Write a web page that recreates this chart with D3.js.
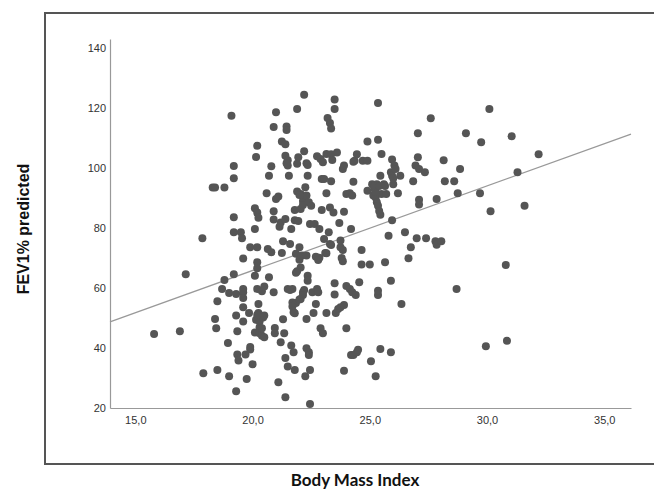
<!DOCTYPE html>
<meta charset="utf-8">
<style>
  body { margin: 0; background: #fff; }
  .dot { fill: #555; }
  .fit { stroke: #999; stroke-width: 1.2px; fill: none; }
  .axis path { stroke: #999; stroke-width: 1.2px; }
  .axis text { font: 11px "Liberation Sans", Arial, sans-serif; fill: #333; }
</style>
<body>
<script src="https://d3js.org/d3.v7.min.js"></script>
<script>
// data
var bmi = [
  15.8, 16.9, 17.15, 17.86, 17.9, 18.3, 18.4, 18.8, 18.4, 18.45, 18.5, 18.5, 18.7, 18.8, 18.95,
  19.0, 19.0, 19.1, 19.2, 19.2, 19.2, 19.2, 19.2, 19.3, 19.3, 19.3, 19.35, 19.35, 19.4, 19.5,
  19.55, 19.6, 19.6, 19.6, 19.6, 19.6, 19.6, 19.7, 19.75, 19.85, 19.9, 19.9, 19.9, 20.0, 20.1,
  20.1, 20.15, 20.1, 20.1, 20.2, 20.15, 20.2, 20.25, 20.2, 20.2, 20.2, 20.2, 20.25, 20.25, 20.3,
  20.3, 20.3, 20.4, 20.4, 20.45, 20.5, 20.5, 20.5, 20.6, 20.7, 20.7, 20.65, 20.8, 20.8, 20.9,
  20.9, 20.9, 20.9, 20.95, 20.95, 21.0, 21.0, 21.1, 21.1, 21.15, 21.2, 21.2, 21.25, 21.3, 21.25,
  21.3, 21.35, 21.4, 21.4, 21.4, 21.4, 21.4, 21.45, 21.45, 21.5, 21.5, 21.5, 21.55, 21.5, 21.6,
  21.65, 21.7, 21.65, 21.7, 21.75, 21.75, 21.8, 21.8, 21.8, 21.9, 21.85, 21.9, 21.85, 21.9, 21.9,
  21.95, 21.95, 22.0, 22.0, 22.05, 22.05, 22.05, 22.05, 22.1, 22.15, 22.15, 22.2, 22.2, 22.25, 22.25,
  22.3, 22.3, 22.3, 22.3, 22.3, 22.35, 22.35, 22.35, 22.4, 22.4, 22.4, 22.45, 22.45, 22.45, 22.5,
  22.55, 22.6, 22.65, 22.7, 22.75, 22.75, 22.8, 22.85, 22.85, 22.9, 22.9, 22.95, 22.95, 23.0, 23.0,
  23.05, 23.05, 23.1, 23.15, 23.15, 23.15, 23.2, 23.25, 23.3, 23.3, 23.3, 23.35, 23.35, 23.35, 23.45,
  23.5, 23.5, 23.5, 23.5, 23.55, 23.6, 23.65, 23.7, 23.75, 23.75, 23.75, 23.8, 23.85, 23.85, 23.9,
  23.9, 23.9, 23.9, 24.0, 24.0, 24.0, 24.15, 24.15, 24.2, 24.2, 24.25, 24.3, 24.25, 24.3, 24.35,
  24.4, 24.45, 24.45, 24.5, 24.55, 24.65, 24.65, 24.7, 24.9, 24.9, 24.9, 25.0, 25.05, 25.1, 25.15,
  25.2, 25.25, 25.25, 25.3, 25.3, 25.35, 25.35, 25.35, 25.35, 25.35, 25.4, 25.45, 25.45, 25.45, 25.5,
  25.5, 25.6, 25.65, 25.7, 25.8, 25.9, 25.9, 25.9, 25.95, 25.95, 25.95, 26.0, 26.05, 26.1, 26.2,
  26.3, 26.35, 26.5, 26.65, 26.75, 26.85, 26.95, 27.0, 27.05, 27.05, 27.1, 27.1, 27.1, 27.35, 27.4,
  27.6, 27.8, 27.85, 27.85, 28.05, 28.15, 28.2, 28.6, 28.7, 28.75, 28.85, 29.1, 29.7, 29.75, 29.95,
  30.1, 30.15, 30.8, 30.85, 31.05, 31.3, 31.6, 32.2,
  21.6, 22.2, 22.15, 22.0, 21.7, 21.8, 21.85, 23.35, 23.15, 22.7, 22.8, 22.0, 22.15, 25.25, 25.65,
  21.45, 22.35, 23.4, 24.3, 20.2, 20.4, 23.85, 26.0, 25.2, 25.4
];
var fev = [
  44.7, 45.6, 64.6, 76.6, 31.6, 93.5, 93.5, 93.5, 49.7, 46.6, 32.7, 55.6, 59.7, 62.7, 41.7,
  30.6, 58.3, 117.4, 100.7, 96.6, 64.6, 83.6, 78.6, 25.6, 58.0, 50.8, 45.6, 37.8, 35.8, 78.6,
  76.6, 69.8, 59.7, 58.6, 56.7, 53.6, 48.8, 37.8, 29.7, 51.7, 39.5, 40.3, 73.6, 34.6, 45.2,
  64.1, 49.4, 79.7, 86.6, 107.4, 103.7, 85.2, 83.4, 73.6, 68.6, 66.6, 59.7, 54.7, 51.7, 48.8,
  46.9, 44.9, 58.9, 44.1, 50.2, 43.6, 50.8, 60.5, 91.6, 63.6, 97.4, 73.0, 71.9, 100.6, 113.7,
  85.6, 82.8, 58.6, 46.7, 44.9, 89.7, 118.6, 90.5, 28.6, 80.4, 81.8, 41.9, 71.7, 49.6, 108.8,
  75.6, 44.9, 107.9, 104.1, 83.0, 36.7, 23.6, 113.8, 112.7, 102.6, 33.8, 100.8, 97.4, 59.7, 74.7,
  40.8, 59.7, 79.7, 55.2, 38.6, 51.9, 32.7, 82.6, 86.0, 101.4, 71.4, 65.6, 55.0, 119.7, 92.2,
  82.3, 103.6, 73.6, 69.4, 91.3, 86.3, 56.3, 66.8, 70.8, 58.6, 89.0, 105.6, 124.4, 93.6, 30.6,
  39.9, 90.8, 70.8, 49.7, 101.6, 64.1, 62.4, 97.4, 88.6, 38.6, 37.7, 21.3, 32.7, 81.3, 87.4,
  58.6, 51.7, 81.3, 54.7, 59.7, 103.9, 58.6, 70.1, 79.7, 103.0, 46.6, 96.3, 86.0, 44.9, 101.9,
  76.3, 96.3, 71.7, 51.7, 91.6, 104.7, 116.7, 78.6, 86.8, 115.0, 74.7, 113.2, 104.6, 95.6, 85.2,
  57.8, 122.8, 119.7, 61.6, 51.7, 105.2, 53.0, 81.7, 53.6, 73.6, 75.8, 70.0, 99.7, 68.9, 100.8,
  85.4, 54.3, 32.4, 46.6, 91.3, 60.7, 91.6, 59.7, 37.7, 79.7, 90.8, 95.4, 58.6, 37.7, 102.4,
  57.7, 104.6, 38.6, 39.4, 61.9, 72.7, 67.8, 102.4, 102.4, 108.8, 92.4, 67.8, 35.6, 94.6, 90.8,
  93.0, 30.6, 90.2, 88.6, 94.6, 109.4, 121.7, 57.7, 59.1, 87.4, 85.7, 39.7, 97.4, 84.4, 91.3,
  104.7, 94.6, 68.6, 91.3, 77.4, 98.6, 62.4, 38.6, 102.8, 82.6, 97.4, 94.6, 100.8, 99.7, 91.6,
  97.4, 54.7, 78.6, 69.9, 73.6, 95.6, 100.8, 76.6, 111.6, 103.6, 89.4, 99.7, 87.8, 98.6, 76.6,
  116.6, 75.6, 74.4, 89.7, 75.6, 102.6, 95.6, 95.6, 59.7, 91.6, 99.7, 111.6, 91.6, 108.6, 40.6,
  119.7, 85.6, 67.7, 42.4, 110.6, 98.6, 87.4, 104.6,
  59.3, 59.3, 57.7, 56.2, 53.8, 51.6, 65.1, 74.3, 71.6, 70.4, 69.3, 91.0, 87.7, 92.1, 94.0,
  101.6, 101.0, 102.7, 102.1, 51.0, 46.6, 72.7, 96.6, 94.0, 94.0
];
var xTicks = [15, 20, 25, 30, 35];
var yTicks = [20, 40, 60, 80, 100, 120, 140];
var xDomain = [13.92, 36.14];
var yDomain = [20, 143];
// fit line: fev = a + b * bmi
var fitIntercept = 9.5, fitSlope = 2.817;

var width = 654, height = 491;
var svg = d3.select("body").append("svg")
    .attr("width", width)
    .attr("height", height);

// outer frame (runs off the right edge)
svg.append("rect")
    .attr("x", 45).attr("y", 13)
    .attr("width", 640).attr("height", 451)
    .attr("fill", "none")
    .attr("stroke", "#555")
    .attr("stroke-width", 2);

var x = d3.scaleLinear().domain(xDomain).range([110, 631]);
var y = d3.scaleLinear().domain(yDomain).range([408, 39]);

var comma = function(d) { return d3.format(".1f")(d).replace(".", ","); };

svg.append("g")
    .attr("class", "axis")
    .attr("transform", "translate(0,408)")
    .call(d3.axisBottom(x).tickValues(xTicks).tickSize(0).tickSizeOuter(0).tickPadding(8).tickFormat(comma));

svg.append("g")
    .attr("class", "axis")
    .attr("transform", "translate(110,0)")
    .call(d3.axisLeft(y).tickValues(yTicks).tickSize(0).tickSizeOuter(0).tickPadding(4));

// regression line
var line = d3.line()
    .x(function(d) { return x(d); })
    .y(function(d) { return y(fitIntercept + fitSlope * d); });
svg.append("path")
    .datum(xDomain)
    .attr("class", "fit")
    .attr("d", line);

svg.selectAll(".dot")
    .data(d3.zip(bmi, fev))
  .enter().append("circle")
    .attr("class", "dot")
    .attr("r", 4)
    .attr("cx", function(d) { return x(d[0]); })
    .attr("cy", function(d) { return y(d[1]); });

svg.append("text")
    .attr("x", 355).attr("y", 486)
    .attr("text-anchor", "middle")
    .style("font", "bold 17px Lato, sans-serif")
    .style("fill", "#111")
    .text("Body Mass Index");

svg.append("text")
    .attr("transform", "translate(29,229) rotate(-90)")
    .attr("text-anchor", "middle")
    .style("font", "bold 16px 'Liberation Sans', Arial, sans-serif")
    .style("fill", "#111")
    .text("FEV1% predicted");
</script>
</body>
